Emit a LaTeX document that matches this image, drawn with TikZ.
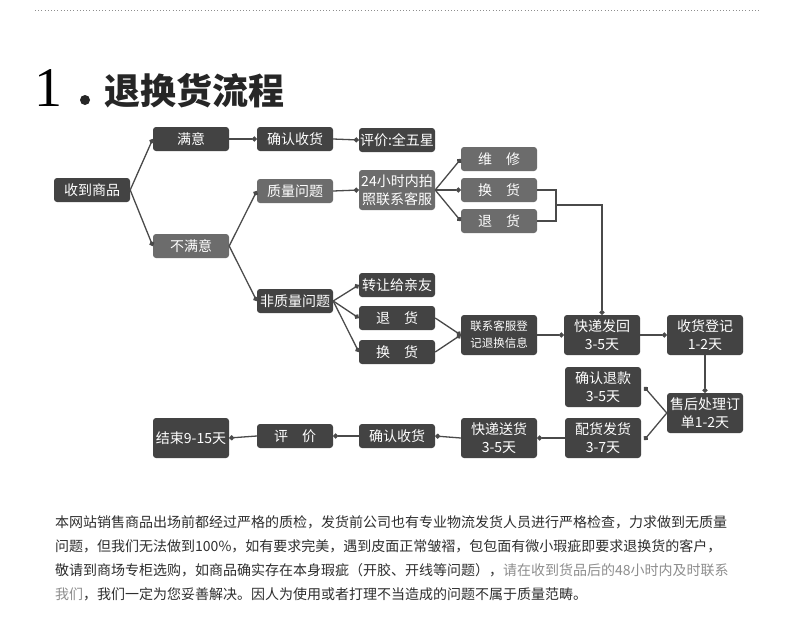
\documentclass[tikz,border=0pt]{standalone}
\usepackage{fontspec}
\setmainfont{Noto Sans CJK SC}
\newfontfamily\numfont{Liberation Serif}
\usetikzlibrary{arrows.meta}
\definecolor{dark}{HTML}{434343}
\definecolor{light}{HTML}{6C6C6C}
\definecolor{linec}{HTML}{4A4A4A}
\definecolor{bodytext}{HTML}{2E2E2E}
\definecolor{graytext}{HTML}{8E8E8E}
\tikzset{
  box/.style={rounded corners=3pt, fill=dark, text=white, minimum width=76pt,
    minimum height=24pt, inner sep=0pt, align=center,
    font=\fontsize{14}{18.5}\selectfont},
  lbox/.style={box, fill=light},
  tall/.style={minimum height=40pt},
  conn/.style={draw=linec, line width=1.3pt, -{Circle[length=5pt]}},
  plainline/.style={draw=linec, line width=1.3pt},
  para/.style={anchor=west, inner sep=0pt, text=bodytext, font=\fontsize{14}{18}\selectfont}
}
\begin{document}
\begin{tikzpicture}[x=1pt, y=-1pt]
\useasboundingbox[fill=white] (0,0) rectangle (790,640);
% top dotted rule
\draw[graytext, line width=0.8pt, dash pattern=on 0.8pt off 2.4pt] (35,10) -- (760,10);
% title
\node[anchor=base west, inner sep=0pt, font=\numfont\fontsize{56}{56}\selectfont] (tnum) at (34,106) {1};
\fill[black!85] (85,100) circle (5pt);
\node[anchor=base west, inner sep=0pt, font=\bfseries\fontsize{36}{36}\selectfont, text=black!85] (ttl) at (104,104) {退换货流程};

% nodes
\node[box] (recv) at (92,190) {收到商品};
\node[box] (sat) at (191,139) {满意};
\node[box] (conf1) at (295,139) {确认收货};
\node[box] (rate5) at (397,140) {评价:全五星};
\node[lbox] (unsat) at (191,246) {不满意};
\node[lbox] (qual) at (295,191) {质量问题};
\node[lbox, tall, minimum width=76pt] (h24) at (397,190) {24小时内拍\\照联系客服};
\node[lbox] (repair) at (499,159) {维\quad 修};
\node[lbox] (exch1) at (499,190) {换\quad 货};
\node[lbox] (ret1) at (499,221) {退\quad 货};
\node[box] (nqual) at (295,301) {非质量问题};
\node[box] (gift) at (397,285) {转让给亲友};
\node[box] (ret2) at (397,318) {退\quad 货};
\node[box] (exch2) at (397,352) {换\quad 货};
\node[box, tall, font=\fontsize{11.5}{17}\selectfont] (contact) at (499,335) {联系客服登\\记退换信息};
\node[box, tall] (back) at (602,335) {快递发回\\3-5天};
\node[box, tall] (reg) at (705,335) {收货登记\\1-2天};
\node[box, tall] (refund) at (603,387) {确认退款\\3-5天};
\node[box, tall] (proc) at (705,413) {售后处理订\\单1-2天};
\node[box, tall] (ship) at (603,438) {配货发货\\3-7天};
\node[box, tall] (deliv) at (499,438) {快递送货\\3-5天};
\node[box] (conf2) at (397,436) {确认收货};
\node[box] (rate) at (295,436) {评\quad 价};
\node[box, tall] (endn) at (191,438) {结束9-15天};

% connectors
\draw[conn] (recv.east) -- (sat.west);
\draw[conn] (recv.east) -- (unsat.west);
\draw[conn] (sat.east) -- (conf1.west);
\draw[conn] (conf1.east) -- (rate5.west);
\draw[conn] (unsat.east) -- (qual.west);
\draw[conn] (unsat.east) -- (nqual.west);
\draw[conn] (qual.east) -- (h24.west);
\draw[conn] (h24.east) -- (repair.west);
\draw[conn] (h24.east) -- (exch1.west);
\draw[conn] (h24.east) -- (ret1.west);
\coordinate (brk) at (556,205);
\draw[plainline] (exch1.east) -| (brk) |- (ret1.east);
\draw[conn] (brk) -| (back.north);
\draw[conn] (nqual.east) -- (gift.west);
\draw[conn] (nqual.east) -- (ret2.west);
\draw[conn] (nqual.east) -- (exch2.west);
\draw[conn] (ret2.east) -- (contact.west);
\draw[conn] (exch2.east) -- (contact.west);
\draw[conn] (contact.east) -- (back.west);
\draw[conn] (back.east) -- (reg.west);
\draw[conn] (reg.south) -- (proc.north);
\draw[conn] (proc.west) -- ([xshift=3pt]refund.east);
\draw[conn] (proc.west) -- ([xshift=3pt, yshift=-2pt]ship.east);
\draw[conn] (ship.west) -- (deliv.east);
\draw[conn] (deliv.west) -- (conf2.east);
\draw[conn] (conf2.west) -- (rate.east);
\draw[conn] (rate.west) -- (endn.east);

% paragraph
\node[para] (p1) at (55,522) {本网站销售商品出场前都经过严格的质检，发货前公司也有专业物流发货人员进行严格检查，力求做到无质量};
\node[para] (p2) at (55,546) {问题，但我们无法做到100\%，如有要求完美，遇到皮面正常皱褶，包包面有微小瑕疵即要求退换货的客户，};
\node[para] (p3) at (55,570) {敬请到商场专柜选购，如商品确实存在本身瑕疵（开胶、开线等问题），\textcolor{graytext}{请在收到货品后的48小时内及时联系}};
\node[para] (p4) at (55,594) {\textcolor{graytext}{我们}，我们一定为您妥善解决。因人为使用或者打理不当造成的问题不属于质量范畴。};
\end{tikzpicture}
\end{document}
